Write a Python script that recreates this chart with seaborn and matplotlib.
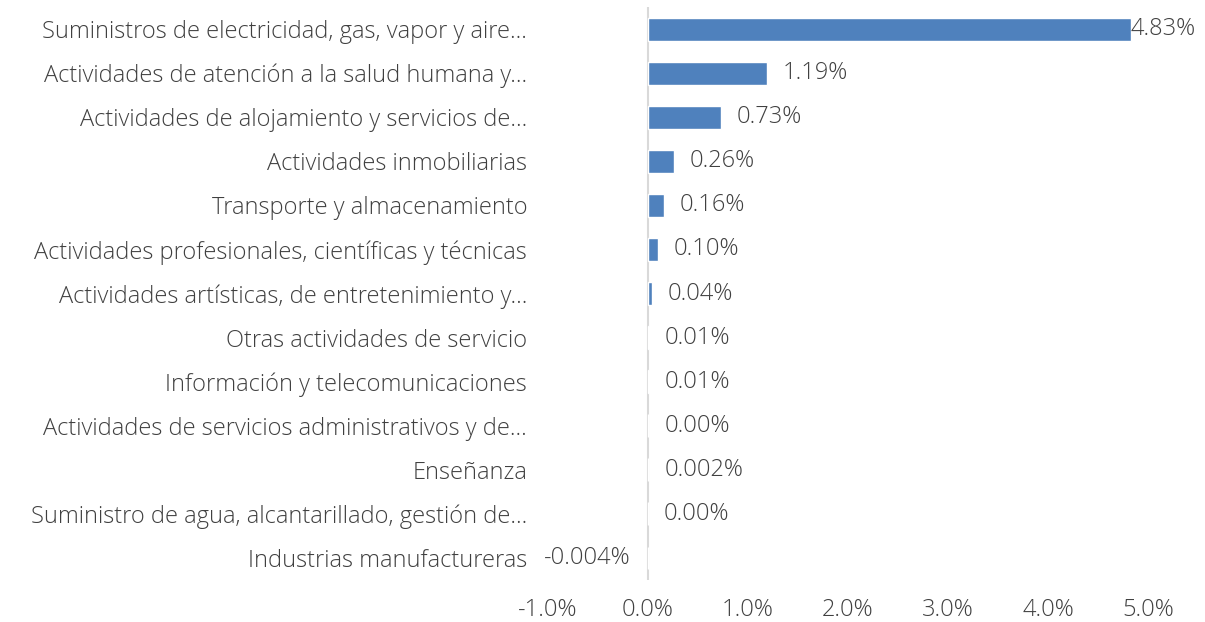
import seaborn as sns
import pandas as pd
from matplotlib import pyplot as plt
from matplotlib.ticker import FuncFormatter

sectores = [
    "Suministros de electricidad, gas, vapor y aire...",
    "Actividades de atención a la salud humana y...",
    "Actividades de alojamiento y servicios de...",
    "Actividades inmobiliarias",
    "Transporte y almacenamiento",
    "Actividades profesionales, científicas y técnicas",
    "Actividades artísticas, de entretenimiento y...",
    "Otras actividades de servicio",
    "Información y telecomunicaciones",
    "Actividades de servicios administrativos y de...",
    "Enseñanza",
    "Suministro de agua, alcantarillado, gestión de...",
    "Industrias manufactureras",
]
valores = [4.83, 1.19, 0.73, 0.26, 0.16, 0.10, 0.04, 0.01, 0.01, 0.003, 0.002, 0.001, -0.004]
etiquetas = ["4.83%", "1.19%", "0.73%", "0.26%", "0.16%", "0.10%", "0.04%",
             "0.01%", "0.01%", "0.00%", "0.002%", "0.00%", "-0.004%"]
ticks_x = [-1, 0, 1, 2, 3, 4, 5]

df = pd.DataFrame({"sector": sectores, "valor": valores})

sns.set_style("white")
plt.rcParams['font.family'] = ['Open Sans', 'DejaVu Sans']
plt.rcParams['font.weight'] = 'light'

fig = plt.figure(figsize=(12.05, 6.22), dpi=100)
ax = fig.add_axes([0.4548, 0.0675, 0.4979, 0.9212])

sns.barplot(data=df, y="sector", x="valor", orient="h", color="#4F81BD",
            saturation=1, width=0.52, ax=ax)

fs = 17
ax.set_xlim(-1, 5)
ax.set_xticks(ticks_x)
ax.xaxis.set_major_formatter(FuncFormatter(lambda v, p: f"{v:.1f}%"))
ax.set_xlabel("")
ax.set_ylabel("")
for s in ax.spines.values():
    s.set_visible(False)
ax.axvline(0, color="#D9D9D9", lw=1.5, zorder=0)
ax.tick_params(axis="both", length=0, labelsize=fs, colors="#404040")
ax.tick_params(axis="y", pad=15)
ax.tick_params(axis="x", pad=13)

for i, (v, lab) in enumerate(zip(valores, etiquetas)):
    if v < 0:
        ax.annotate(lab, (v, i), xytext=(-12, 0), textcoords="offset points",
                    ha="right", va="center", fontsize=fs, color="#404040")
    elif v > 4.5:
        ax.annotate(lab, (v, i), xytext=(0, 0), textcoords="offset points",
                    ha="left", va="center", fontsize=fs, color="#404040")
    else:
        ax.annotate(lab, (v, i), xytext=(11.5, 0), textcoords="offset points",
                    ha="left", va="center", fontsize=fs, color="#404040")

plt.savefig("out.png", dpi=100)
